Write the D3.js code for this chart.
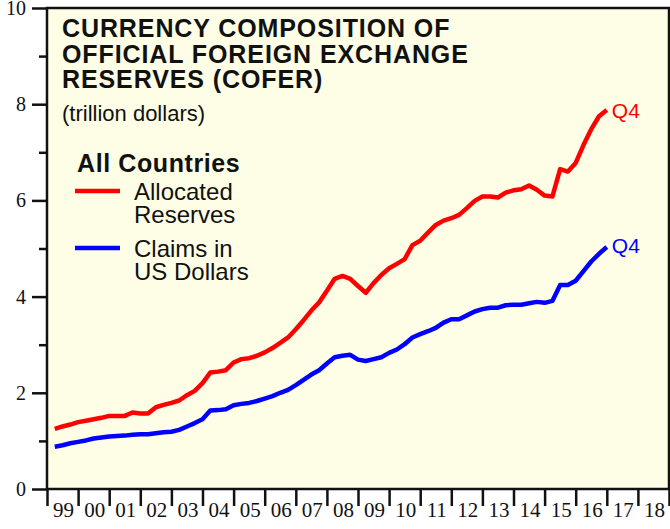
<!DOCTYPE html>
<html>
<head>
<meta charset="utf-8">
<script src="https://cdn.jsdelivr.net/npm/d3@7"></script>
<style>
  body { margin: 0; background: #fff; }
  .tick text { font-family: "Liberation Serif", "Times New Roman", serif; font-size: 20px; fill: #111; }
  .tick line { stroke: #111; stroke-width: 2.5; }
  .domain { display: none; }
</style>
</head>
<body>
<svg id="chart" width="670" height="529"></svg>
<script>
// data: quarterly, 1999 Q1 .. 2016 Q4 (trillion dollars)
var startYear = 1999;
var allocated = [
  1.25, 1.30, 1.34, 1.39, 1.42, 1.45, 1.48, 1.52, 1.52, 1.52, 1.59, 1.57,
  1.57, 1.70, 1.75, 1.79, 1.84, 1.95, 2.04, 2.20, 2.42, 2.44, 2.47, 2.63,
  2.70, 2.72, 2.77, 2.84, 2.93, 3.04, 3.15, 3.32, 3.51, 3.71, 3.88, 4.12,
  4.37, 4.43, 4.37, 4.22, 4.08, 4.28, 4.45, 4.59, 4.68, 4.78, 5.07, 5.16,
  5.33, 5.49, 5.58, 5.63, 5.70, 5.84, 5.99, 6.08, 6.08, 6.06, 6.16, 6.21,
  6.23, 6.31, 6.22, 6.10, 6.08, 6.65, 6.60, 6.78, 7.15, 7.48, 7.75, 7.88
];
var usdClaims = [
  0.88, 0.91, 0.95, 0.98, 1.01, 1.05, 1.07, 1.09, 1.10, 1.11, 1.13, 1.14,
  1.14, 1.16, 1.18, 1.19, 1.23, 1.30, 1.37, 1.45, 1.63, 1.64, 1.66, 1.74,
  1.77, 1.79, 1.83, 1.88, 1.93, 2.00, 2.06, 2.16, 2.27, 2.38, 2.47, 2.61,
  2.74, 2.77, 2.79, 2.69, 2.66, 2.70, 2.74, 2.83, 2.90, 3.01, 3.15, 3.22,
  3.28, 3.35, 3.46, 3.53, 3.53, 3.61, 3.69, 3.74, 3.77, 3.77, 3.82, 3.83,
  3.83, 3.86, 3.89, 3.87, 3.91, 4.24, 4.24, 4.33, 4.53, 4.73, 4.89, 5.03
];
var yearLabels = ["99","00","01","02","03","04","05","06","07","08",
                  "09","10","11","12","13","14","15","16","17","18"];
var yTickValues = [0,1,2,3,4,5,6,7,8,9,10];

var svg = d3.select("#chart");
// plot box ("top" is taken on window, so other names)
var plotLeft = 47, plotRight = 669, plotTop = 8, plotBottom = 489;
var sans = "'Liberation Sans', Arial, sans-serif";

var x = d3.scaleLinear().domain([1999, 2019]).range([plotLeft, plotRight]);
var y = d3.scaleLinear().domain([0, 10]).range([plotBottom, plotTop]);

// plot background
svg.append("rect")
  .attr("x", plotLeft).attr("y", plotTop)
  .attr("width", plotRight - plotLeft).attr("height", plotBottom - plotTop)
  .attr("fill", "#fefee6");

// y axis (major ticks labelled, minor ticks shorter)
var yAxis = svg.append("g")
  .attr("transform", "translate(" + plotLeft + ",0)")
  .call(d3.axisLeft(y).tickValues(yTickValues)
    .tickSize(15).tickPadding(6)
    .tickFormat(function(d){ return d % 2 === 0 ? d : ""; }));
yAxis.selectAll(".tick line")
  .attr("x2", function(d){ return d % 2 === 0 ? -15 : -8; });

// x axis: ticks at year boundaries, labels centred in the year
svg.append("g")
  .attr("transform", "translate(0," + plotBottom + ")")
  .call(d3.axisBottom(x).tickValues(d3.range(1999, 2020))
    .tickSize(17).tickFormat(""));
svg.append("g").selectAll("text")
  .data(yearLabels)
  .enter().append("text")
  .attr("x", function(d, i){ return x(startYear + i + 0.5) + 1; })
  .attr("y", plotBottom + 28)
  .attr("text-anchor", "middle")
  .style("font-family", "'Liberation Serif', 'Times New Roman', serif")
  .style("font-size", "21px")
  .attr("fill", "#111")
  .text(function(d){ return d; });

// lines
var line = d3.line()
  .x(function(d, i){ return x(startYear + (i + 1) / 4); })
  .y(function(d){ return y(d); });

svg.append("path").datum(allocated)
  .attr("d", line).attr("fill", "none")
  .attr("stroke", "#ff0000").attr("stroke-width", 4.5)
  .attr("stroke-linejoin", "round");
svg.append("path").datum(usdClaims)
  .attr("d", line).attr("fill", "none")
  .attr("stroke", "#0000ff").attr("stroke-width", 4.5)
  .attr("stroke-linejoin", "round");

// Q4 end labels
svg.append("text").attr("x", x(2017) + 5).attr("y", y(allocated[allocated.length - 1]) + 8)
  .attr("fill", "#ff0000").style("font-family", sans)
  .style("font-size", "21px").text("Q4");
svg.append("text").attr("x", x(2017) + 5).attr("y", y(usdClaims[usdClaims.length - 1]) + 6)
  .attr("fill", "#0000ff").style("font-family", sans)
  .style("font-size", "21px").text("Q4");

// plot border
svg.append("rect")
  .attr("x", plotLeft).attr("y", plotTop)
  .attr("width", plotRight - plotLeft).attr("height", plotBottom - plotTop)
  .attr("fill", "none").attr("stroke", "#111").attr("stroke-width", 2.5);

// title
["CURRENCY COMPOSITION OF", "OFFICIAL FOREIGN EXCHANGE", "RESERVES (COFER)"]
  .forEach(function(t, i){
    svg.append("text").attr("x", 62).attr("y", 37 + i * 25.5)
      .style("font-family", sans)
      .style("font-size", "25px").style("font-weight", "bold")
      .style("letter-spacing", "0.9px").attr("fill", "#111")
      .text(t);
  });
svg.append("text").attr("x", 62).attr("y", 121)
  .style("font-family", sans)
  .style("font-size", "22px").attr("fill", "#111")
  .text("(trillion dollars)");

// legend
svg.append("text").attr("x", 77).attr("y", 172)
  .style("font-family", sans)
  .style("font-size", "25px").style("font-weight", "bold")
  .style("letter-spacing", "0.6px").attr("fill", "#111")
  .text("All Countries");

var legendItems = [
  { color: "#ff0000", lines: ["Allocated", "Reserves"], ly: 191, ty: 200 },
  { color: "#0000ff", lines: ["Claims in", "US Dollars"], ly: 248, ty: 257 }
];
legendItems.forEach(function(it){
  svg.append("line").attr("x1", 75).attr("x2", 120)
    .attr("y1", it.ly).attr("y2", it.ly)
    .attr("stroke", it.color).attr("stroke-width", 4.5);
  it.lines.forEach(function(s, i){
    svg.append("text").attr("x", 134).attr("y", it.ty + i * 23)
      .style("font-family", sans)
      .style("font-size", "24px").attr("fill", "#111")
      .text(s);
  });
});
</script>
</body>
</html>
